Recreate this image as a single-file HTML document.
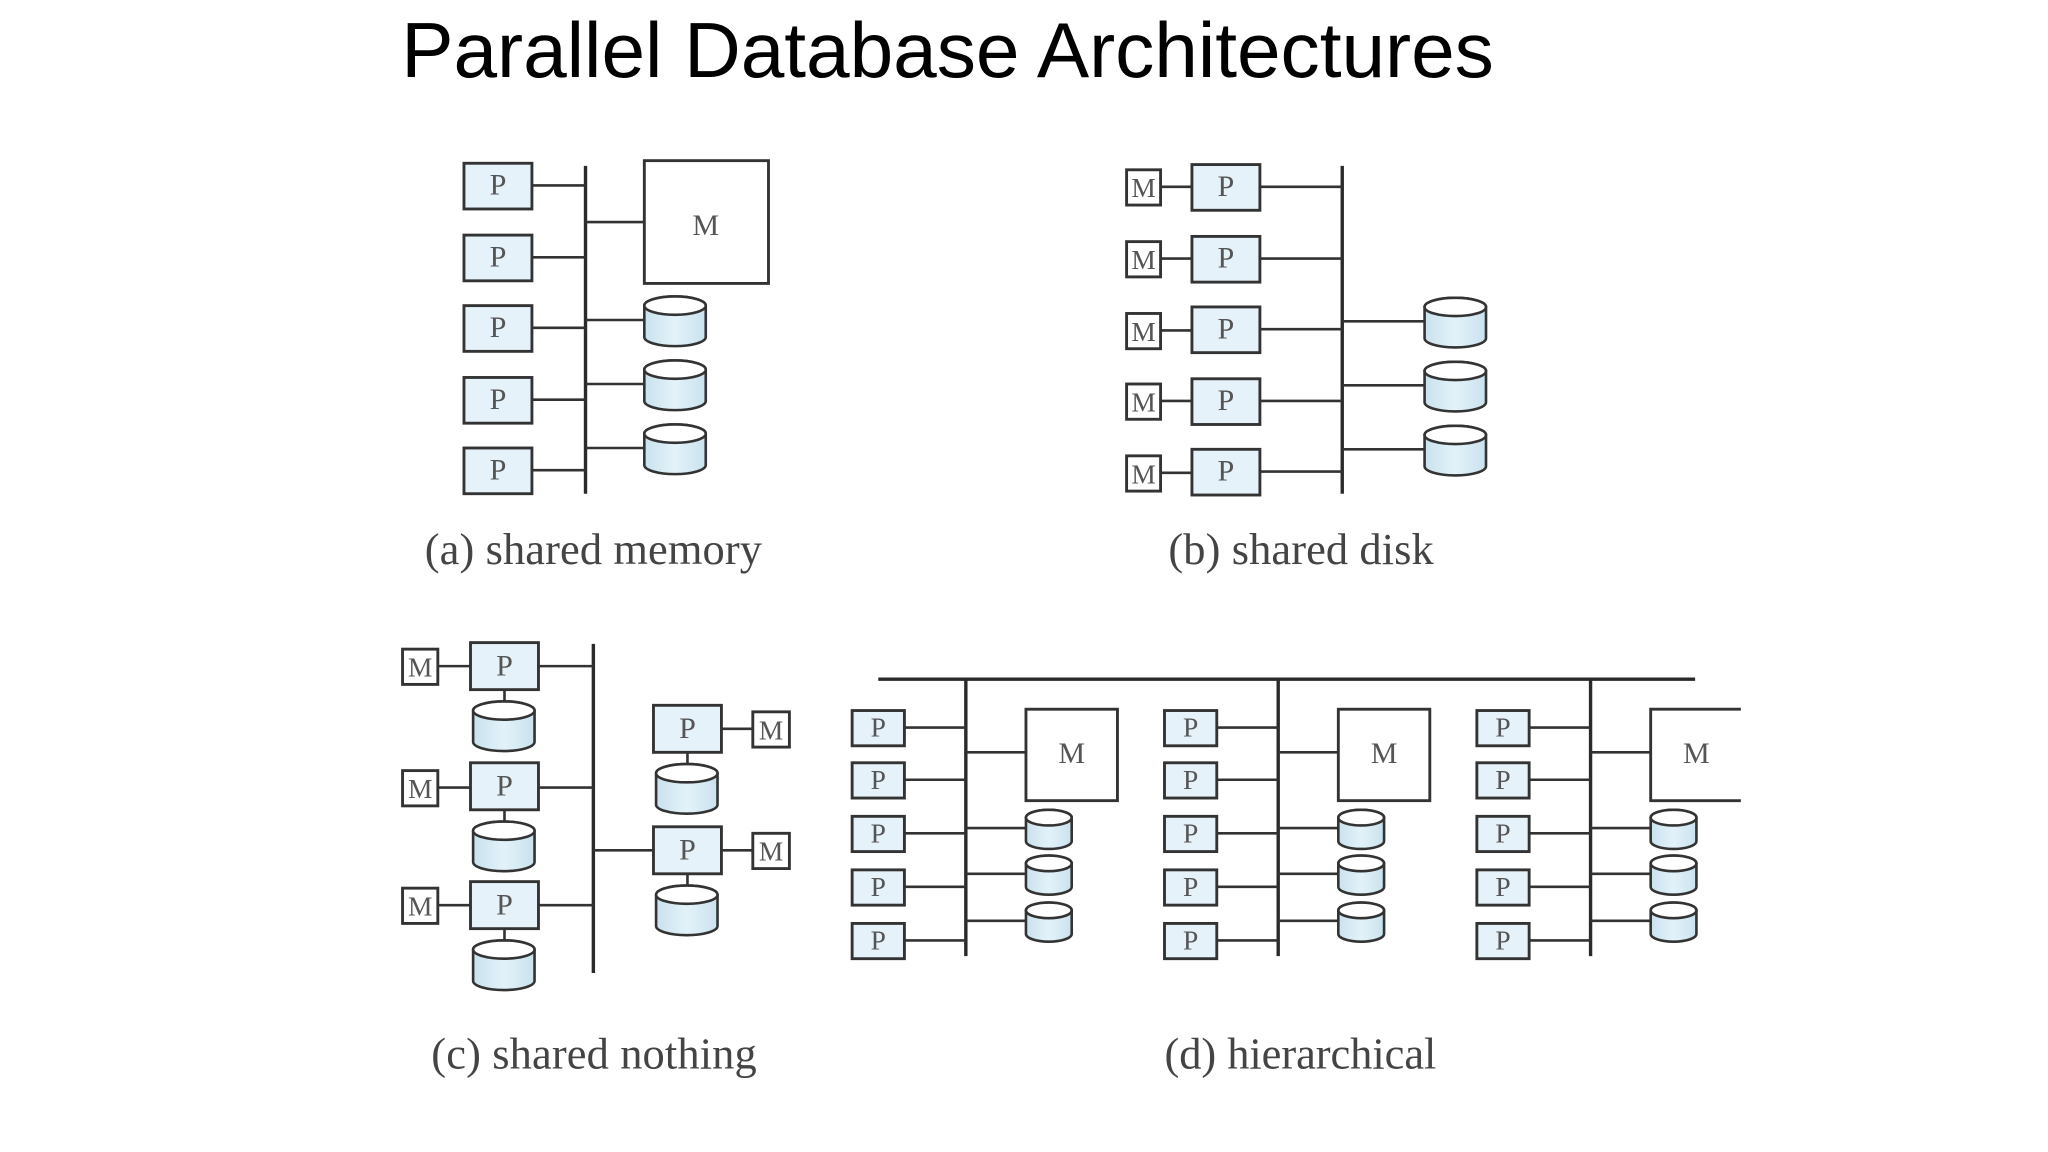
<!DOCTYPE html>
<html><head><meta charset="utf-8"><style>
html,body{margin:0;padding:0;background:#fff;}
svg{display:block;}
.b{fill:#e6f2f9;stroke:#333;stroke-width:2.2;}
.m{fill:#fff;stroke:#333;stroke-width:2.2;}
.l{stroke:#333;stroke-width:2;fill:none;}
.bus{stroke:#2a2a2a;stroke-width:2.6;fill:none;}
.d{fill:url(#g);stroke:#333;stroke-width:2;}
.dt{fill:#fff;stroke:#333;stroke-width:2;}
.t{font-family:"Liberation Serif",serif;fill:#555;text-anchor:middle;}
.cap{font-family:"Liberation Serif",serif;fill:#444;font-size:34px;}
</style></head><body>
<svg width="2048" height="1152" viewBox="0 0 1567 882" preserveAspectRatio="none" xmlns="http://www.w3.org/2000/svg">
<defs>
<linearGradient id="g" x1="0" x2="1" y1="0" y2="0"><stop offset="0" stop-color="#c9e2ee"/><stop offset="0.5" stop-color="#e3f2f9"/><stop offset="1" stop-color="#c9e2ee"/></linearGradient>
<g id="dk"><path class="d" d="M0,7 A23.5,7 0 0 1 47,7 V31 A23.5,7 0 0 1 0,31 Z"/><ellipse class="dt" cx="23.5" cy="7" rx="23.5" ry="7"/></g>
<g id="dks"><path class="d" d="M0,6 A17.5,6 0 0 1 35,6 V24 A17.5,6 0 0 1 0,24 Z"/><ellipse class="dt" cx="17.5" cy="6" rx="17.5" ry="6"/></g>
</defs>

<text x="307" y="59" font-family="Liberation Sans, sans-serif" font-size="60" fill="#000" textLength="836">Parallel Database Architectures</text>

<!-- (a) shared memory -->
<line class="bus" x1="448" y1="127" x2="448" y2="378"/>
<g class="l">
<line x1="407" y1="142" x2="448" y2="142"/><line x1="407" y1="197" x2="448" y2="197"/><line x1="407" y1="251" x2="448" y2="251"/><line x1="407" y1="306" x2="448" y2="306"/><line x1="407" y1="360" x2="448" y2="360"/>
<line x1="448" y1="170" x2="493" y2="170"/><line x1="448" y1="245" x2="493" y2="245"/><line x1="448" y1="294" x2="493" y2="294"/><line x1="448" y1="343" x2="493" y2="343"/>
</g>
<rect class="b" x="355" y="125" width="52" height="35"/><rect class="b" x="355" y="180" width="52" height="35"/><rect class="b" x="355" y="234" width="52" height="35"/><rect class="b" x="355" y="289" width="52" height="35"/><rect class="b" x="355" y="343" width="52" height="35"/>
<g class="t" font-size="23"><text x="381" y="149">P</text><text x="381" y="204">P</text><text x="381" y="258">P</text><text x="381" y="313">P</text><text x="381" y="367">P</text></g>
<rect class="m" x="493" y="123" width="95" height="94"/><text class="t" x="540" y="180" font-size="23">M</text>
<use href="#dk" x="493" y="227"/><use href="#dk" x="493" y="276"/><use href="#dk" x="493" y="325"/>
<text class="cap" x="325" y="432" textLength="258">(a) shared memory</text>

<!-- (b) shared disk -->
<line class="bus" x1="1027" y1="127" x2="1027" y2="378"/>
<g class="l">
<line x1="888" y1="143" x2="912" y2="143"/><line x1="888" y1="198" x2="912" y2="198"/><line x1="888" y1="253" x2="912" y2="253"/><line x1="888" y1="307" x2="912" y2="307"/><line x1="888" y1="362" x2="912" y2="362"/>
<line x1="964" y1="143" x2="1027" y2="143"/><line x1="964" y1="198" x2="1027" y2="198"/><line x1="964" y1="252" x2="1027" y2="252"/><line x1="964" y1="307" x2="1027" y2="307"/><line x1="964" y1="361" x2="1027" y2="361"/>
<line x1="1027" y1="246" x2="1090" y2="246"/><line x1="1027" y1="295" x2="1090" y2="295"/><line x1="1027" y1="344" x2="1090" y2="344"/>
</g>
<rect class="m" x="862" y="130" width="26" height="27"/><rect class="m" x="862" y="185" width="26" height="27"/><rect class="m" x="862" y="240" width="26" height="27"/><rect class="m" x="862" y="294" width="26" height="27"/><rect class="m" x="862" y="349" width="26" height="27"/>
<g class="t" font-size="21"><text x="875" y="151">M</text><text x="875" y="206">M</text><text x="875" y="261">M</text><text x="875" y="315">M</text><text x="875" y="370">M</text></g>
<rect class="b" x="912" y="126" width="52" height="35"/><rect class="b" x="912" y="181" width="52" height="35"/><rect class="b" x="912" y="235" width="52" height="35"/><rect class="b" x="912" y="290" width="52" height="35"/><rect class="b" x="912" y="344" width="52" height="35"/>
<g class="t" font-size="23"><text x="938" y="150">P</text><text x="938" y="205">P</text><text x="938" y="259">P</text><text x="938" y="314">P</text><text x="938" y="368">P</text></g>
<use href="#dk" x="1090" y="228"/><use href="#dk" x="1090" y="277"/><use href="#dk" x="1090" y="326"/>
<text class="cap" x="894" y="432" textLength="203">(b) shared disk</text>

<!-- (c) shared nothing -->
<line class="bus" x1="454" y1="493" x2="454" y2="745"/>
<g class="l">
<line x1="335" y1="510" x2="360" y2="510"/><line x1="335" y1="603" x2="360" y2="603"/><line x1="335" y1="693" x2="360" y2="693"/>
<line x1="412" y1="510" x2="454" y2="510"/><line x1="412" y1="603" x2="454" y2="603"/><line x1="412" y1="693" x2="454" y2="693"/>
<line x1="386" y1="528" x2="386" y2="540"/><line x1="386" y1="620" x2="386" y2="632"/><line x1="386" y1="711" x2="386" y2="723"/>
<line x1="454" y1="651" x2="500" y2="651"/>
<line x1="552" y1="558" x2="576" y2="558"/><line x1="552" y1="651" x2="576" y2="651"/>
<line x1="526" y1="576" x2="526" y2="588"/><line x1="526" y1="669" x2="526" y2="681"/>
</g>
<rect class="m" x="308" y="497" width="27" height="27"/><rect class="m" x="308" y="590" width="27" height="27"/><rect class="m" x="308" y="680" width="27" height="27"/>
<rect class="m" x="576" y="545" width="28" height="27"/><rect class="m" x="576" y="638" width="28" height="27"/>
<g class="t" font-size="21"><text x="321.5" y="518">M</text><text x="321.5" y="611">M</text><text x="321.5" y="701">M</text><text x="590" y="566">M</text><text x="590" y="659">M</text></g>
<rect class="b" x="360" y="492" width="52" height="36"/><rect class="b" x="360" y="584" width="52" height="36"/><rect class="b" x="360" y="675" width="52" height="36"/>
<rect class="b" x="500" y="540" width="52" height="36"/><rect class="b" x="500" y="633" width="52" height="36"/>
<g class="t" font-size="23"><text x="386" y="517">P</text><text x="386" y="609">P</text><text x="386" y="700">P</text><text x="526" y="565">P</text><text x="526" y="658">P</text></g>
<use href="#dk" x="362" y="537"/><use href="#dk" x="362" y="629"/><use href="#dk" x="362" y="720"/>
<use href="#dk" x="502" y="585"/><use href="#dk" x="502" y="678"/>
<text class="cap" x="330" y="818" textLength="249">(c) shared nothing</text>

<!-- (d) hierarchical -->
<line class="bus" x1="672" y1="520" x2="1297" y2="520"/>
<g id="cl">
<line class="bus" x1="739" y1="520" x2="739" y2="732"/>
<g class="l">
<line x1="692" y1="557" x2="739" y2="557"/><line x1="692" y1="597" x2="739" y2="597"/><line x1="692" y1="638" x2="739" y2="638"/><line x1="692" y1="679" x2="739" y2="679"/><line x1="692" y1="720" x2="739" y2="720"/>
<line x1="739" y1="576" x2="785" y2="576"/><line x1="739" y1="634" x2="785" y2="634"/><line x1="739" y1="669" x2="785" y2="669"/><line x1="739" y1="705" x2="785" y2="705"/>
</g>
<rect class="b" x="652" y="544" width="40" height="27"/><rect class="b" x="652" y="584" width="40" height="27"/><rect class="b" x="652" y="625" width="40" height="27"/><rect class="b" x="652" y="666" width="40" height="27"/><rect class="b" x="652" y="707" width="40" height="27"/>
<use href="#dks" x="785" y="620"/><use href="#dks" x="785" y="655"/><use href="#dks" x="785" y="691"/>
</g>
<use href="#cl" x="239" y="0"/>
<use href="#cl" x="478" y="0"/>
<g class="t" font-size="21">
<text x="672" y="564">P</text><text x="672" y="604">P</text><text x="672" y="645">P</text><text x="672" y="686">P</text><text x="672" y="727">P</text>
<text x="911" y="564">P</text><text x="911" y="604">P</text><text x="911" y="645">P</text><text x="911" y="686">P</text><text x="911" y="727">P</text>
<text x="1150" y="564">P</text><text x="1150" y="604">P</text><text x="1150" y="645">P</text><text x="1150" y="686">P</text><text x="1150" y="727">P</text>
</g>
<rect class="m" x="785" y="543" width="70" height="70"/>
<rect class="m" x="1024" y="543" width="70" height="70"/>
<path class="m" d="M1332,543 H1263 V613 H1332"/>
<g class="t" font-size="23"><text x="820" y="584">M</text><text x="1059" y="584">M</text><text x="1298" y="584">M</text></g>
<text class="cap" x="891" y="818" textLength="208">(d) hierarchical</text>
</svg>
</body></html>
